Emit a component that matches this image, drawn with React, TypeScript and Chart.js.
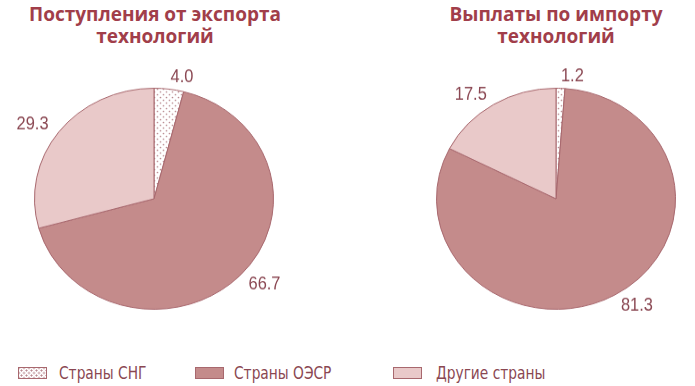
import React, { useEffect, useRef } from "react";
import { Chart, registerables } from "chart.js";

Chart.register(...registerables);

const categories = ["Страны СНГ", "Страны ОЭСР", "Другие страны"];
const exportValues = [4.0, 66.7, 29.3];
const importValues = [1.2, 81.3, 17.5];
const exportTitle = ["Поступления от экспорта", "технологий"];
const importTitle = ["Выплаты по импорту", "технологий"];

const OECD = "#c48b8b";
const OTHER = "#e9c9c9";
const BORDER = "#a8686e";
const DOT = "#b98a90";
const LABEL = "#8a4752";
const TITLE = "#a13e4a";
const CONDENSED = "'DejaVu Sans Condensed', 'Liberation Sans Narrow', sans-serif";
const SQUASH = 0.925;

function makeDots(): CanvasPattern | string {
  const c = document.createElement("canvas");
  c.width = 6;
  c.height = 6;
  const g = c.getContext("2d");
  if (!g) return "#fff";
  g.fillStyle = "#ffffff";
  g.fillRect(0, 0, 6, 6);
  g.fillStyle = DOT;
  [[1.5, 1.5], [4.5, 4.5]].forEach(([x, y]) => {
    g.beginPath();
    g.arc(x, y, 0.85, 0, Math.PI * 2);
    g.fill();
  });
  return g.createPattern(c, "repeat") || "#fff";
}

const labelPlugin = {
  id: "outLabels",
  afterDatasetsDraw(chart: any) {
    const ctx = chart.ctx;
    const meta = chart.getDatasetMeta(0);
    const data = chart.data.datasets[0].data as number[];
    ctx.save();
    ctx.font = "20px 'Liberation Sans', Arial, sans-serif";
    ctx.fillStyle = LABEL;
    ctx.textBaseline = "middle";
    meta.data.forEach((arc: any, i: number) => {
      const p = arc.getProps(["x", "y", "startAngle", "endAngle", "outerRadius"], true);
      const a = (p.startAngle + p.endAngle) / 2;
      const r = p.outerRadius + 13;
      const c = Math.cos(a);
      ctx.save();
      ctx.translate(p.x + c * r, p.y + Math.sin(a) * r);
      ctx.scale(0.82, 1);
      ctx.textAlign = c >= 0 ? "left" : "right";
      ctx.fillText(data[i].toFixed(1), 0, 0);
      ctx.restore();
    });
    ctx.restore();
  },
};

function Pie({ values, padLeft, padRight, width }: { values: number[]; padLeft: number; padRight: number; width: number }) {
  const ref = useRef<HTMLCanvasElement>(null);
  useEffect(() => {
    if (!ref.current) return;
    const chart = new Chart(ref.current, {
      type: "pie",
      data: {
        labels: categories,
        datasets: [
          {
            data: values,
            backgroundColor: [makeDots(), OECD, OTHER] as any,
            borderColor: BORDER,
            borderWidth: 1,
            hoverOffset: 0,
            offset: 0,
          },
        ],
      },
      options: {
        responsive: false,
        animation: false,
        devicePixelRatio: 1,
        layout: { padding: { left: padLeft, right: padRight, top: 30, bottom: 30 } },
        plugins: { legend: { display: false }, title: { display: false }, tooltip: { enabled: false } },
        events: [],
      },
      plugins: [labelPlugin],
    });
    return () => chart.destroy();
  }, []);
  return <canvas ref={ref} width={width} height={300} style={{ width, height: 300, display: "block" }} />;
}

const titleStyle: React.CSSProperties = {
  position: "absolute",
  top: 3,
  width: 310,
  textAlign: "center",
  fontFamily: "'Open Sans', sans-serif",
  fontWeight: 700,
  fontSize: 19,
  lineHeight: "22px",
  color: TITLE,
  whiteSpace: "nowrap",
};

const legendText: React.CSSProperties = {
  position: "absolute",
  top: 362,
  fontFamily: CONDENSED,
  fontSize: 18,
  lineHeight: "22px",
  color: LABEL,
  whiteSpace: "nowrap",
  transform: "scaleX(0.85)",
  transformOrigin: "0 0",
};

const boxBase: React.CSSProperties = {
  position: "absolute",
  top: 367,
  width: 29,
  height: 12,
  boxSizing: "border-box",
  border: `1px solid ${BORDER}`,
};

export default function App() {
  return (
    <div style={{ position: "fixed", left: 0, top: 0, width: 695, height: 386, background: "#fff", overflow: "hidden" }}>
      <div style={{ ...titleStyle, left: 0 }}>
        {exportTitle.map((t) => (
          <div key={t}>{t}</div>
        ))}
      </div>
      <div style={{ ...titleStyle, left: 401 }}>
        {importTitle.map((t) => (
          <div key={t}>{t}</div>
        ))}
      </div>
      <div style={{ position: "absolute", left: 0, top: 60.25, transform: `scaleY(${SQUASH})`, transformOrigin: "0 0" }}>
        <Pie values={exportValues} padLeft={34} padRight={36} width={310} />
      </div>
      <div style={{ position: "absolute", left: 386, top: 60.25, transform: `scaleY(${SQUASH})`, transformOrigin: "0 0" }}>
        <Pie values={importValues} padLeft={50} padRight={19} width={309} />
      </div>
      <div
        style={{
          ...boxBase,
          left: 18,
          backgroundColor: "#fff",
          backgroundImage: `radial-gradient(circle, ${DOT} 0.8px, transparent 1.3px), radial-gradient(circle, ${DOT} 0.8px, transparent 1.3px)`,
          backgroundSize: "5px 5px, 5px 5px",
          backgroundPosition: "0 0, 2.5px 2.5px",
        }}
      />
      <div style={{ ...legendText, left: 59 }}>{categories[0]}</div>
      <div style={{ ...boxBase, left: 195, background: OECD }} />
      <div style={{ ...legendText, left: 234 }}>{categories[1]}</div>
      <div style={{ ...boxBase, left: 393, background: OTHER }} />
      <div style={{ ...legendText, left: 436 }}>{categories[2]}</div>
    </div>
  );
}
